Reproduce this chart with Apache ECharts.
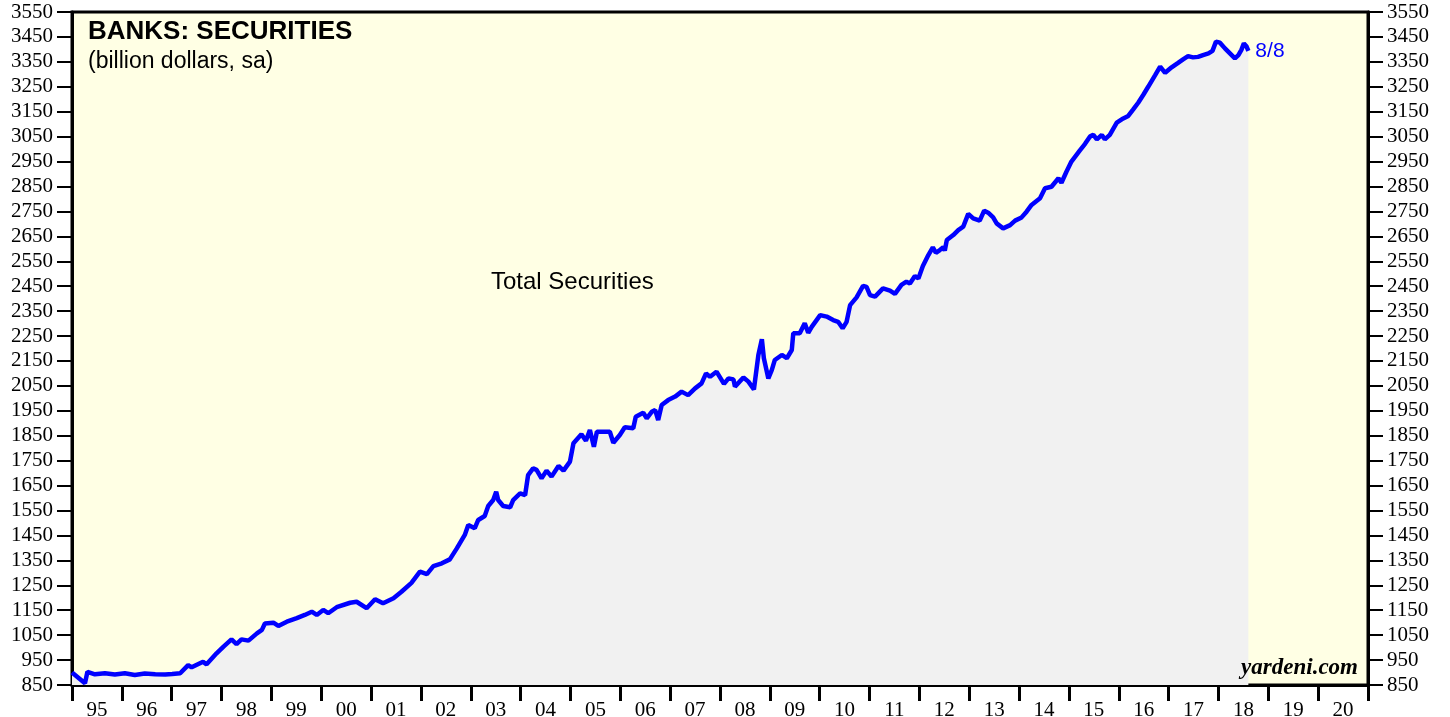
<!DOCTYPE html>
<html><head><meta charset="utf-8">
<script src="https://cdn.jsdelivr.net/npm/echarts@6/dist/echarts.min.js"></script>
<style>html,body{margin:0;padding:0;background:#fff}#c{width:1450px;height:717px}</style>
</head><body><div id="c"></div>
<script>
const yearLabels = ['95','96','97','98','99','00','01','02','03','04','05','06','07','08','09','10','11','12','13','14','15','16','17','18','19','20'];
const yTickMin = 850, yTickMax = 3550, yTickStep = 100;
const xStartYear = 1995, xEndYear = 2021;
const endLabelText = '8/8';
const seriesName = 'Total Securities';

// decimal years (time axis) and Total Securities (billion dollars, sa)
const years = [
 1995.00,1995.04,1995.26,1995.31,1995.46,1995.66,1995.86,1996.06,1996.26,1996.46,1996.67,1996.87,1997.01,1997.17,1997.33,1997.40,
 1997.63,1997.70,1997.90,1998.04,1998.20,1998.30,1998.40,1998.54,1998.71,1998.81,1998.87,1999.04,1999.14,1999.31,1999.51,1999.67,
 1999.81,1999.91,2000.04,2000.14,2000.31,2000.58,2000.71,2000.91,2001.08,2001.24,2001.45,2001.61,2001.81,2001.98,2002.12,2002.25,
 2002.42,2002.58,2002.72,2002.88,2002.95,2003.08,2003.15,2003.28,2003.35,2003.45,2003.51,2003.55,2003.65,2003.79,2003.85,2003.99,
 2004.09,2004.15,2004.25,2004.32,2004.42,2004.52,2004.62,2004.76,2004.86,2004.99,2005.06,2005.22,2005.31,2005.39,2005.47,2005.53,
 2005.79,2005.86,2005.99,2006.09,2006.26,2006.31,2006.46,2006.53,2006.63,2006.70,2006.76,2006.83,2006.96,2007.10,2007.23,2007.36,
 2007.50,2007.63,2007.72,2007.80,2007.93,2008.08,2008.17,2008.27,2008.30,2008.47,2008.57,2008.68,2008.77,2008.84,2008.88,2008.97,
 2009.04,2009.10,2009.24,2009.34,2009.44,2009.47,2009.60,2009.70,2009.77,2009.84,2010.01,2010.14,2010.27,2010.37,2010.46,2010.54,
 2010.61,2010.74,2010.87,2010.94,2011.01,2011.11,2011.27,2011.41,2011.51,2011.64,2011.74,2011.81,2011.91,2011.98,2012.07,2012.18,
 2012.27,2012.33,2012.41,2012.48,2012.51,2012.55,2012.68,2012.78,2012.88,2012.98,2013.08,2013.21,2013.30,2013.38,2013.48,2013.55,
 2013.68,2013.82,2013.92,2014.05,2014.15,2014.25,2014.42,2014.52,2014.65,2014.79,2014.85,2014.95,2015.05,2015.22,2015.32,2015.42,
 2015.49,2015.56,2015.66,2015.72,2015.82,2015.96,2016.09,2016.19,2016.29,2016.39,2016.49,2016.59,2016.73,2016.83,2016.93,2017.06,
 2017.19,2017.29,2017.39,2017.49,2017.59,2017.69,2017.80,2017.88,2017.95,2018.03,2018.13,2018.23,2018.33,2018.40,2018.46,2018.51,
 2018.56,2018.60
];
const values = [
 900,897,857,903,893,897,892,897,890,896,893,892,894,897,930,921,
 943,933,977,1004,1033,1014,1033,1028,1057,1071,1097,1100,1087,1104,1118,1131,
 1144,1131,1151,1138,1162,1180,1184,1158,1194,1178,1198,1224,1260,1305,1295,1327,
 1338,1354,1398,1452,1492,1479,1512,1528,1568,1592,1625,1592,1568,1563,1592,1619,
 1612,1692,1719,1713,1679,1710,1686,1729,1710,1746,1820,1856,1830,1873,1806,1866,
 1866,1822,1853,1884,1880,1926,1942,1920,1946,1953,1913,1973,1993,2007,2027,2013,
 2040,2060,2100,2087,2107,2058,2080,2076,2047,2084,2067,2036,2174,2237,2161,2080,
 2114,2154,2174,2161,2194,2261,2261,2301,2263,2287,2334,2328,2314,2307,2281,2307,
 2374,2405,2451,2447,2414,2408,2441,2432,2419,2455,2468,2461,2491,2481,2531,2575,
 2606,2584,2595,2606,2593,2635,2655,2675,2689,2740,2722,2713,2753,2745,2726,2702,
 2682,2695,2713,2726,2749,2776,2803,2843,2849,2883,2865,2909,2950,2995,3020,3050,
 3057,3039,3057,3039,3057,3106,3123,3133,3159,3186,3217,3250,3297,3331,3306,3328,
 3346,3360,3373,3368,3370,3377,3384,3394,3431,3427,3404,3384,3364,3377,3398,3424,
 3413,3394
];

const chart = echarts.init(document.getElementById('c'), null, {renderer:'canvas'});
const serif = '"Liberation Serif","DejaVu Serif",serif';
const sans = '"Liberation Sans",Arial,sans-serif';
const yAxisCommon = {
  type:'value', min:yTickMin, max:yTickMax, interval:yTickStep,
  axisLine:{show:true, onZero:false, lineStyle:{color:'#000', width:3}},
  axisTick:{show:true, length:15, lineStyle:{color:'#000', width:2}},
  axisLabel:{fontFamily:serif, fontSize:21, color:'#000', margin:19, formatter:(v)=>String(v)},
  splitLine:{show:false}
};
chart.setOption({
  animation:false,
  backgroundColor:'#ffffff',
  grid:{left:72, right:82, top:12, bottom:32, outerBoundsMode:'none', containLabel:false,
        show:true, backgroundColor:'#ffffe4', borderColor:'#000', borderWidth:3},
  xAxis:[
    {type:'category', data:yearLabels, boundaryGap:true, position:'bottom',
     axisLine:{show:true, lineStyle:{color:'#000', width:3}},
     axisTick:{show:true, length:16, lineStyle:{color:'#000', width:3}},
     axisLabel:{fontFamily:serif, fontSize:21, color:'#000', margin:15},
     splitLine:{show:false}},
    {type:'value', min:xStartYear, max:xEndYear, show:false}
  ],
  yAxis:[
    Object.assign({position:'left'}, yAxisCommon),
    Object.assign({position:'right'}, yAxisCommon)
  ],
  series:[{
    name:seriesName, type:'line', xAxisIndex:1, yAxisIndex:0,
    data:years.map((y,i)=>[y, values[i]]),
    showSymbol:false, symbol:'none',
    lineStyle:{color:'#0000ff', width:4.5},
    areaStyle:{color:'#f1f1f1', opacity:1},
    endLabel:{show:true, formatter:endLabelText, color:'#0000ff', fontFamily:sans, fontSize:21, distance:7},
    z:3
  }],
  graphic:[
    {type:'text', z:100, left:88, top:19, style:{text:'BANKS: SECURITIES', font:'bold 26px "Liberation Sans", Arial, sans-serif', fill:'#000'}},
    {type:'text', z:100, left:88, top:50, style:{text:'(billion dollars, sa)', font:'23px "Liberation Sans", Arial, sans-serif', fill:'#000'}},
    {type:'text', z:100, left:491, top:270, style:{text:seriesName, font:'24px "Liberation Sans", Arial, sans-serif', fill:'#000'}},
    {type:'text', z:100, right:92, top:657, style:{text:'yardeni.com', font:'italic bold 23px "Liberation Serif", serif', fill:'#000'}}
  ]
});
</script>
</body></html>
